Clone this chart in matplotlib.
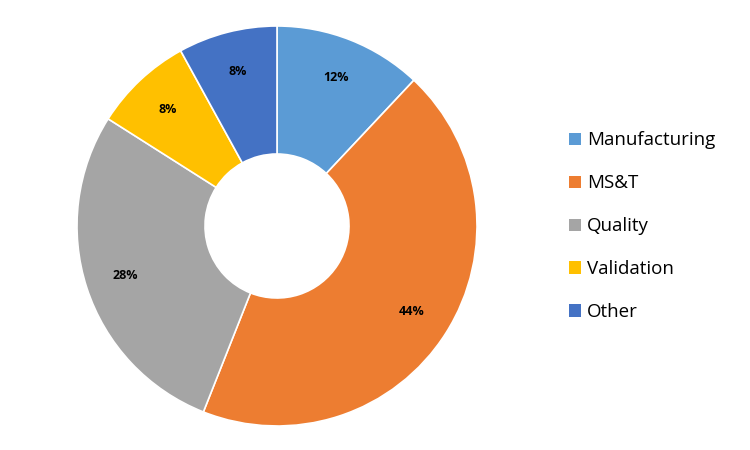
import matplotlib
matplotlib.use("Agg")
from matplotlib import pyplot as plt
from matplotlib.patches import Patch

categories = ["Manufacturing", "MS&T", "Quality", "Validation", "Other"]
shares = [12, 44, 28, 8, 8]
colors = ["#5B9BD5", "#ED7D31", "#A5A5A5", "#FFC000", "#4472C4"]

plt.rcParams['font.family'] = ['Open Sans', 'DejaVu Sans']

fig = plt.figure(figsize=(7.5, 4.5), dpi=100)
ax = fig.add_axes([77 / 750, 24 / 450, 400 / 750, 400 / 450])

wedges, texts, autotexts = ax.pie(
    shares, colors=colors, startangle=90, counterclock=False,
    radius=1, autopct='%d%%', pctdistance=0.8,
    wedgeprops=dict(width=0.64, edgecolor='white', linewidth=1.2),
    textprops=dict(fontsize=9, fontweight='bold', color='black'))
ax.set_xlim(-1, 1)
ax.set_ylim(-1, 1)
ax.set_aspect('equal')
ax.axis('off')

# legend with small square markers
handles = [Patch(facecolor=c, edgecolor='none') for c in colors]
fig.legend(handles, categories, loc='center left', bbox_to_anchor=(552 / 750, 0.497),
           frameon=False, fontsize=13.5, handlelength=0.65, handleheight=0.65,
           handletextpad=0.3, labelspacing=1.33)

fig.savefig("out.png", dpi=100)
